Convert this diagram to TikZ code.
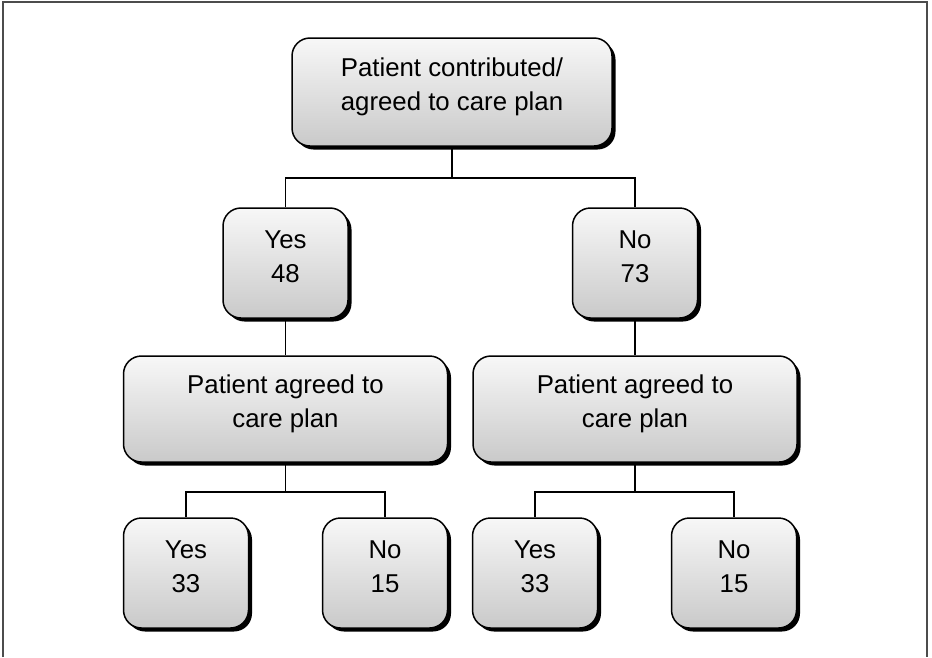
\documentclass[tikz,border=0pt]{standalone}
\usepackage{fontspec}
\setmainfont{Liberation Sans}
\usetikzlibrary{shadows}
\begin{document}
\begin{tikzpicture}[x=1pt,y=1pt,
  box/.style={draw=black, line width=1.5pt, rounded corners=18pt,
    top color=white!97!black, bottom color=white!79!black,
    drop shadow={shadow xshift=3.5pt, shadow yshift=-3.5pt, fill=black, opacity=1},
    align=center, inner sep=0pt, text=black,
    font=\fontsize{25.8}{34.2}\selectfont},
  small/.style={box, minimum width=125pt, minimum height=110pt, text depth=13pt},
  wide/.style={box, minimum width=324pt, minimum height=106pt, text depth=15.5pt},
  link/.style={draw=black, line width=1.2pt},
  frame/.style={draw=black!70, line width=2pt}]
\useasboundingbox (0,0) rectangle (932,-657);
\draw[frame] (3,-657) -- (3,-2) -- (927,-2) -- (927,-657);

\node[box, minimum width=320pt, minimum height=108pt, text depth=15.5pt] (top) at (452,-92) {Patient contributed/\\agreed to care plan};
\node[small] (y1) at (285.5,-263) {Yes\\48};
\node[small] (n1) at (635,-263) {No\\73};
\node[wide] (pa1) at (285.5,-409) {Patient agreed to\\care plan};
\node[wide] (pa2) at (635,-409) {Patient agreed to\\care plan};
\node[small] (y2) at (186,-573) {Yes\\33};
\node[small] (n2) at (385,-573) {No\\15};
\node[small] (y3) at (535,-573) {Yes\\33};
\node[small] (n3) at (734,-573) {No\\15};

\coordinate (j0) at (452,-178);
\coordinate (j1) at (285.5,-492);
\coordinate (j2) at (635,-492);

\draw[link] (top.south) -- (j0);
\draw[link] (j0) -| (y1.north);
\draw[link] (j0) -| (n1.north);
\draw[link] (y1.south) -- (pa1.north);
\draw[link] (n1.south) -- (pa2.north);
\draw[link] (pa1.south) -- (j1);
\draw[link] (j1) -| (y2.north);
\draw[link] (j1) -| (n2.north);
\draw[link] (pa2.south) -- (j2);
\draw[link] (j2) -| (y3.north);
\draw[link] (j2) -| (n3.north);
\end{tikzpicture}
\end{document}
